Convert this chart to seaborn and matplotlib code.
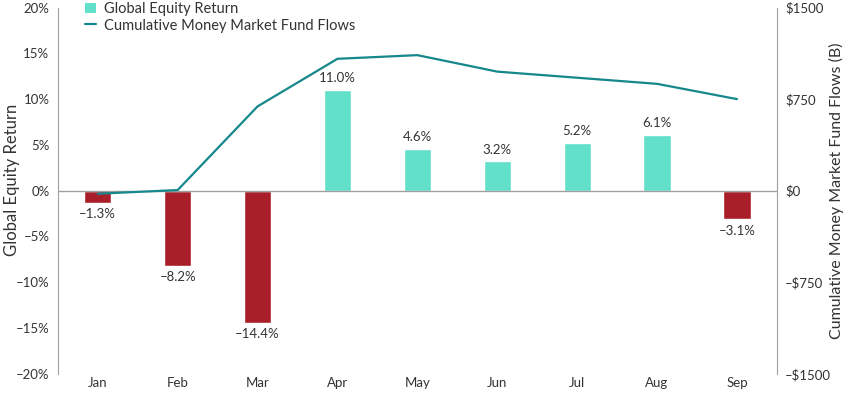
import numpy as np
import pandas as pd
import matplotlib
matplotlib.use("Agg")
import matplotlib.pyplot as plt
from matplotlib.lines import Line2D
from matplotlib.patches import Patch
import seaborn as sns

months = ["Jan", "Feb", "Mar", "Apr", "May", "Jun", "Jul", "Aug", "Sep"]
equity_return = [-1.3, -8.2, -14.4, 11.0, 4.6, 3.2, 5.2, 6.1, -3.1]
mmf_flows = [-25, 5, 690, 1080, 1110, 975, 925, 875, 750]

teal = "#62E0CA"
red = "#A91F29"
line_col = "#16878A"
grey = "#A0A0A0"
txt = "#333333"

sns.set_style("white")
plt.rcParams["font.family"] = ["Lato", "DejaVu Sans"]

df = pd.DataFrame({"month": months, "ret": equity_return})
colors = [teal if v >= 0 else red for v in equity_return]

fig = plt.figure(figsize=(8.5, 3.96), dpi=100)
ax = fig.add_axes([0.068, 0.056, 0.846, 0.925])

sns.barplot(data=df, x="month", y="ret", hue="month", palette=colors,
            legend=False, width=0.34, ax=ax, saturation=1)
ax.set_xlim(-0.5, 8.5)
ax.set_ylim(-20, 20)
ax.set_yticks([-20, -15, -10, -5, 0, 5, 10, 15, 20])
ax.set_yticklabels([("–" if t < 0 else "") + f"{abs(t)}%" for t in ax.get_yticks()])
ax.axhline(0, color=grey, lw=1, zorder=1)

for i, v in enumerate(equity_return):
    lab = ("–" if v < 0 else "") + f"{abs(v):.1f}%"
    if v >= 0:
        ax.annotate(lab, (i, v), xytext=(0, 4), textcoords="offset points",
                    ha="center", va="bottom", fontsize=9.5, color=txt)
    else:
        ax.annotate(lab, (i, v), xytext=(0, -4), textcoords="offset points",
                    ha="center", va="top", fontsize=9.5, color=txt)

ax.set_xlabel("")
ax.set_ylabel("Global Equity Return", fontsize=12, color=txt)
ax.yaxis.set_label_coords(-0.053, 0.53)

ax2 = ax.twinx()
sns.lineplot(x=np.arange(len(months)), y=mmf_flows, color=line_col, lw=1.6, ax=ax2)
ax2.set_ylim(-1500, 1500)
ax2.set_yticks([-1500, -750, 0, 750, 1500])
ax2.set_yticklabels([("–" if t < 0 else "") + f"${abs(t)}" for t in ax2.get_yticks()])
ax2.set_ylabel("Cumulative Money Market Fund Flows (B)", fontsize=11.5, color=txt)
ax2.yaxis.set_label_coords(1.072, 0.5)

for a in (ax, ax2):
    for s in ["top", "bottom"]:
        a.spines[s].set_visible(False)
    a.tick_params(axis="both", length=0, labelsize=9.5, colors=txt)
ax.spines["right"].set_visible(False)
ax2.spines["left"].set_visible(False)
ax.spines["left"].set_color(grey)
ax2.spines["right"].set_color(grey)
ax.tick_params(axis="x", pad=2)
ax.tick_params(axis="y", pad=6)
ax2.tick_params(axis="y", pad=6)

handles = [Patch(facecolor=teal, edgecolor="none", label="Global Equity Return"),
           Line2D([0], [0], color=line_col, lw=1.6, label="Cumulative Money Market Fund Flows")]
ax2.legend(handles=handles, loc="upper left", bbox_to_anchor=(0.02, 1.05), frameon=False,
           fontsize=10.5, handlelength=0.7, handleheight=0.7, handletextpad=0.6,
           labelspacing=0.15, labelcolor=txt)

fig.savefig("out.png", dpi=100)
